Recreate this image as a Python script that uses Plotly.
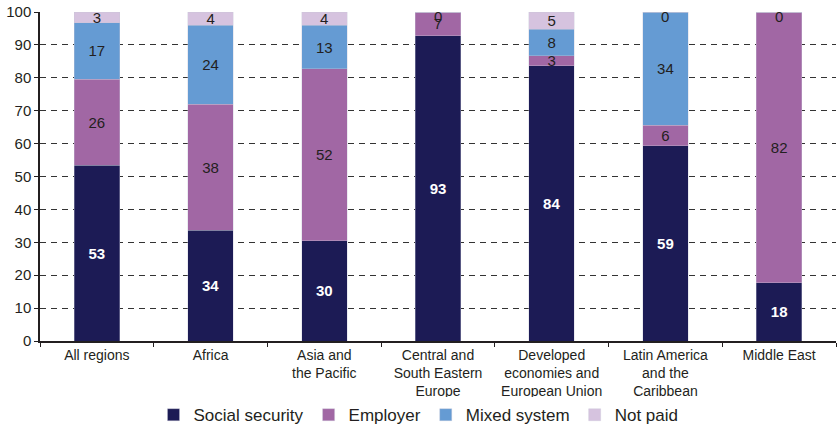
import plotly.graph_objects as go

categories = [
    "All regions",
    "Africa",
    "Asia and<br>the Pacific",
    "Central and<br>South Eastern<br>Europe",
    "Developed<br>economies and<br>European Union",
    "Latin America<br>and the<br>Caribbean",
    "Middle East",
]
social_security = [53.4, 33.6, 30.4, 92.8, 83.7, 59.4, 17.7]
employer = [26.1, 38.3, 52.4, 7.2, 3.0, 6.2, 82.3]
mixed_system = [17.3, 24.1, 13.1, 0, 8.1, 34.4, 0]
not_paid = [3.2, 4.0, 4.1, 0, 5.2, 0, 0]
y_ticks = [0, 10, 20, 30, 40, 50, 60, 70, 80, 90, 100]

FONT = "Liberation Sans, Arial, sans-serif"
series = [
    ("Social security", social_security, "#1C1B55", "white", True),
    ("Employer", employer, "#A167A4", "#231F20", False),
    ("Mixed system", mixed_system, "#659BD3", "#231F20", False),
    ("Not paid", not_paid, "#D6C3DF", "#231F20", False),
]

fig = go.Figure()
cum = [0.0] * len(categories)
zero_marks = set()
for name, vals, color, tcolor, bold in series:
    txt = [f"{v:.0f}" if v != 0 else "" for v in vals]
    if bold:
        txt = [f"<b>{t}</b>" if t else t for t in txt]
    fig.add_trace(go.Bar(
        name=name, x=categories, y=vals,
        marker=dict(color=color, line=dict(color="rgba(200,200,215,0.6)", width=0.6)),
        text=txt, textposition="inside", insidetextanchor="middle",
        textangle=0,
        insidetextfont=dict(family=FONT, size=15, color=tcolor),
        cliponaxis=False, hoverinfo="skip",
    ))
    for i, v in enumerate(vals):
        cum[i] += v
        if v == 0:
            zero_marks.add((i, round(cum[i], 1), tcolor))

for i, pos, tcolor in sorted(zero_marks):
    fig.add_annotation(x=categories[i], y=pos, text="0", showarrow=False,
                       yanchor="middle", yshift=-4,
                       font=dict(family=FONT, size=15, color=tcolor))

fig.update_layout(
    barmode="stack",
    bargap=0.6,
    width=837, height=428,
    margin=dict(l=40, r=1, t=12, b=87),
    paper_bgcolor="white", plot_bgcolor="white",
    font=dict(family=FONT, size=15, color="#231F20"),
    uniformtext=dict(minsize=15, mode="show"),
    hovermode=False,
    showlegend=True,
    legend=dict(orientation="h", xref="container", x=0.5, xanchor="center",
                yref="container", y=0.03, yanchor="middle",
                font=dict(family=FONT, size=17, color="#231F20"),
                traceorder="normal", itemwidth=30),
)
fig.update_xaxes(
    type="category", showline=True, linecolor="#231F20", linewidth=1.5,
    ticks="outside", tickson="boundaries", ticklen=4, tickcolor="#231F20",
    tickangle=0, automargin=False,
    tickfont=dict(family=FONT, size=14, color="#231F20"),
    showgrid=False,
)
fig.update_yaxes(
    range=[0, 100], tickvals=y_ticks, showline=True, linecolor="#231F20", linewidth=1.5,
    ticks="outside", ticklen=4, tickcolor="#231F20", automargin=False,
    tickfont=dict(family=FONT, size=15, color="#231F20"),
    showgrid=True, gridcolor="#333333", gridwidth=1, griddash="6px,5px",
    zeroline=False,
)

fig.write_html("out.html", config={"displayModeBar": False},
               post_script="document.body.style.margin='0';")
